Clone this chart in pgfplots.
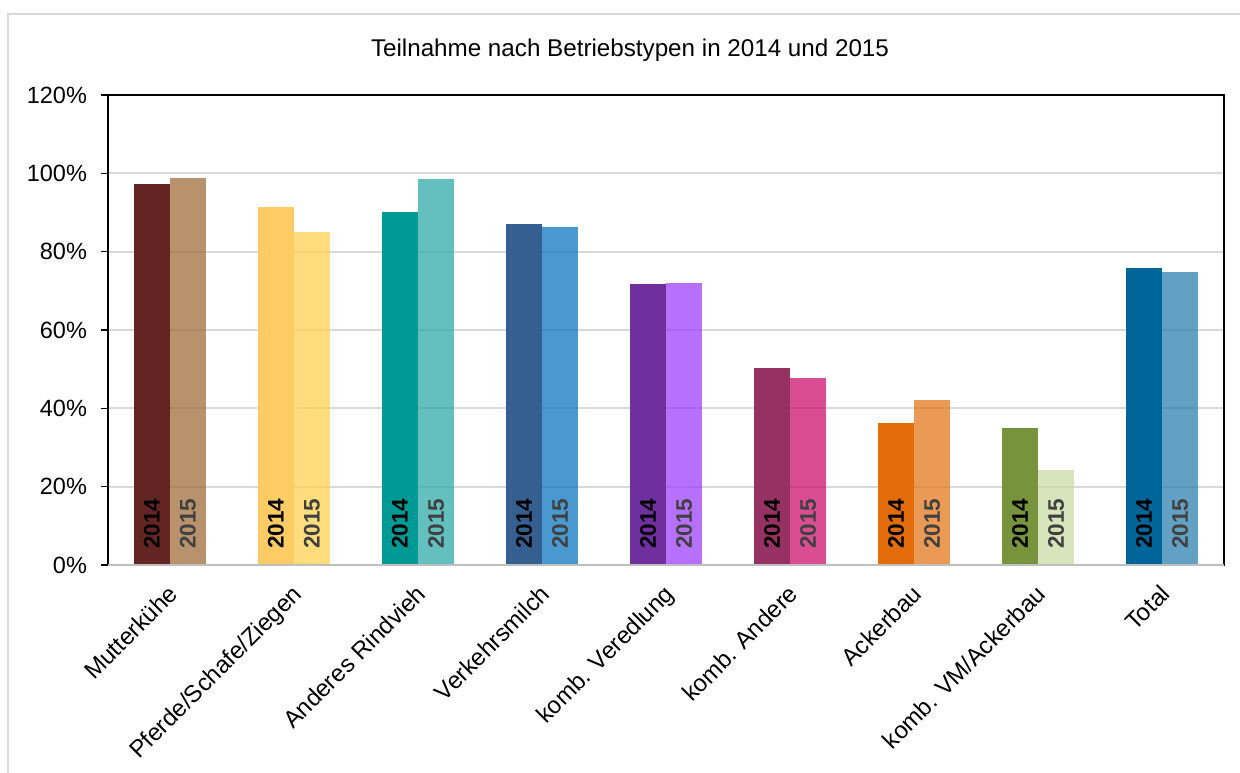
\documentclass[border=0pt]{standalone}
\usepackage{pgfplots}
\pgfplotsset{compat=1.18}
\usepackage{fontspec}
\setmainfont{Liberation Sans}
\definecolor{bordergray}{HTML}{D9D9D9}
\definecolor{gridgray}{HTML}{D9D9D9}
\definecolor{axisgray}{HTML}{BFBFBF}
\definecolor{aA}{HTML}{632523}\definecolor{bA}{HTML}{9F6E3B}
\definecolor{aB}{HTML}{FFCB65}\definecolor{bB}{HTML}{FFD252}
\definecolor{aC}{HTML}{009A96}\definecolor{bC}{HTML}{2FABA8}
\definecolor{aD}{HTML}{365F91}\definecolor{bD}{HTML}{0E76C0}
\definecolor{aE}{HTML}{6F2F9F}\definecolor{bE}{HTML}{9E40FB}
\definecolor{aF}{HTML}{953163}\definecolor{bF}{HTML}{CF126F}
\definecolor{aG}{HTML}{E36C0A}\definecolor{bG}{HTML}{E4781C}
\definecolor{aH}{HTML}{77933C}\definecolor{bH}{HTML}{CADBA6}
\definecolor{aI}{HTML}{006699}\definecolor{bI}{HTML}{2E82B0}
\definecolor{lab15}{HTML}{404040}
\pgfplotsset{
  b14/.style={ybar, bar width=18pt, bar shift=-9pt, draw=none, fill=#1},
  b15/.style={ybar, bar width=18pt, bar shift=9pt, draw=none, fill=#1, fill opacity=0.75},
}
\begin{document}
\begin{tikzpicture}[x=1pt,y=1pt]
\useasboundingbox (0,0) rectangle (620,386);
\draw[color=bordergray, line width=1pt] (4,-5) -- (4,379) -- (625,379);
\node[font=\fontsize{12.1}{14}\selectfont] at (315,361) {Teilnahme nach Betriebstypen in 2014 und 2015};
\begin{axis}[
  at={(54pt,103.5pt)}, anchor=south west, scale only axis,
  width=558pt, height=235pt,
  xmin=-0.5, xmax=8.5, ymin=0, ymax=120,
  ytick={0,20,...,120},
  yticklabel={\pgfmathprintnumber{\tick}\%},
  /pgf/number format/assume math mode=true,
  xtick={0,...,8},
  xticklabels={Mutterkühe,Pferde/Schafe/Ziegen,Anderes Rindvieh,Verkehrsmilch,komb. Veredlung,komb. Andere,Ackerbau,komb. VM/Ackerbau,Total},
  x tick label style={yshift=-4pt, xshift=-1.5pt, rotate=45, anchor=north east, font=\fontsize{12}{14}\selectfont, inner sep=1pt},
  y tick label style={xshift=-3.5pt, font=\fontsize{11.75}{13}\selectfont},
  tick align=outside, ytick pos=left, xtick pos=bottom,
  major tick length=3.5pt,
  x tick style={draw=none},
  y tick style={black, line width=0.75pt},
  ymajorgrids, major grid style={color=gridgray, line width=1pt},
  axis line style={black, line width=0.9pt},
  clip=false,
]
\addplot[b14=aA] coordinates {(0,97.3)};
\addplot[b15=bA] coordinates {(0,98.8)};
\addplot[b14=aB] coordinates {(1,91.4)};
\addplot[b15=bB] coordinates {(1,85.0)};
\addplot[b14=aC] coordinates {(2,90.1)};
\addplot[b15=bC] coordinates {(2,98.5)};
\addplot[b14=aD] coordinates {(3,87.1)};
\addplot[b15=bD] coordinates {(3,86.3)};
\addplot[b14=aE] coordinates {(4,71.7)};
\addplot[b15=bE] coordinates {(4,72.0)};
\addplot[b14=aF] coordinates {(5,50.3)};
\addplot[b15=bF] coordinates {(5,47.7)};
\addplot[b14=aG] coordinates {(6,36.3)};
\addplot[b15=bG] coordinates {(6,42.1)};
\addplot[b14=aH] coordinates {(7,35.0)};
\addplot[b15=bH] coordinates {(7,24.3)};
\addplot[b14=aI] coordinates {(8,75.8)};
\addplot[b15=bI] coordinates {(8,74.8)};
\draw[color=axisgray, line width=1pt] (rel axis cs:0,0) -- (rel axis cs:1,0);
\pgfplotsinvokeforeach{0,...,8}{
  \node[rotate=90, anchor=west, inner sep=0pt, font=\fontsize{11.25}{13}\selectfont\bfseries, text=black] at ([xshift=-9pt,yshift=8pt]axis cs:#1,0) {2014};
  \node[rotate=90, anchor=west, inner sep=0pt, font=\fontsize{11.25}{13}\selectfont\bfseries, text=lab15] at ([xshift=9pt,yshift=8pt]axis cs:#1,0) {2015};
}
\end{axis}
\end{tikzpicture}
\end{document}
